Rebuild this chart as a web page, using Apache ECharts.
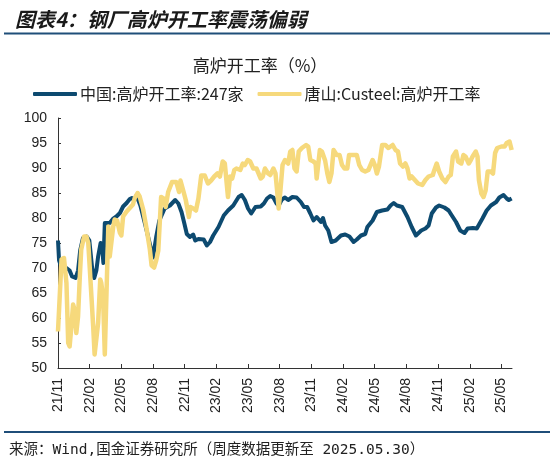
<!DOCTYPE html>
<html>
<head>
<meta charset="utf-8">
<script src="https://cdn.jsdelivr.net/npm/echarts@6/dist/echarts.min.js"></script>
<style>
html,body{margin:0;padding:0;background:#fff;}
#c{width:550px;height:465px;}
</style>
</head>
<body>
<div id="c"></div>
<script>
// ---- data ----
var tickLabels = ['21/11','22/02','22/05','22/08','22/11','23/02','23/05','23/08','23/11','24/02','24/05','24/08','24/11','25/02','25/05'];

var chinaDates = ['2021-11-01','2021-11-04','2021-11-11','2021-11-25','2021-12-04','2021-12-11','2021-12-21','2021-12-28','2022-01-04','2022-01-12','2022-01-22','2022-01-30','2022-02-08','2022-02-14','2022-02-20','2022-02-25','2022-03-02','2022-03-06','2022-03-10','2022-03-14','2022-03-21','2022-03-28','2022-04-07','2022-04-17','2022-04-27','2022-05-06','2022-05-16','2022-05-25','2022-06-01','2022-06-07','2022-06-14','2022-06-25','2022-07-08','2022-07-22','2022-08-01','2022-08-10','2022-08-19','2022-09-04','2022-09-19','2022-10-04','2022-10-13','2022-10-22','2022-10-30','2022-11-07','2022-11-16','2022-11-25','2022-12-01','2022-12-10','2022-12-25','2023-01-04','2023-01-13','2023-01-22','2023-02-07','2023-02-22','2023-03-04','2023-03-19','2023-04-04','2023-04-13','2023-04-22','2023-05-01','2023-05-10','2023-05-22','2023-06-07','2023-06-16','2023-06-25','2023-07-04','2023-07-13','2023-07-22','2023-07-28','2023-08-07','2023-08-16','2023-08-25','2023-09-07','2023-09-19','2023-10-01','2023-10-10','2023-10-19','2023-10-28','2023-11-07','2023-11-16','2023-11-28','2023-12-04','2023-12-10','2023-12-19','2023-12-28','2024-01-10','2024-01-25','2024-02-07','2024-02-19','2024-03-01','2024-03-10','2024-03-22','2024-04-04','2024-04-10','2024-04-25','2024-05-07','2024-05-22','2024-06-07','2024-06-16','2024-06-25','2024-07-04','2024-07-19','2024-08-04','2024-08-16','2024-08-28','2024-09-01','2024-09-13','2024-09-25','2024-10-04','2024-10-13','2024-10-25','2024-11-04','2024-11-19','2024-12-01','2024-12-10','2024-12-22','2025-01-04','2025-01-16','2025-01-25','2025-02-10','2025-02-21','2025-03-07','2025-03-19','2025-04-01','2025-04-16','2025-04-25','2025-05-07','2025-05-16','2025-05-22','2025-05-30'];
var chinaValues = [75.5,71.5,70,70,69.5,68.3,68,69.5,73.5,76,76.3,75.5,70,68,69.5,72.3,75,74.5,71,79,79,79,79.8,80.3,81,82.3,83,83.8,84,83.6,84.5,82.5,78.9,74.8,72.1,76.2,79.5,81.9,82.5,83.6,82.9,81.2,78.9,76.8,76.2,76.7,75.5,75.8,75.7,74.5,75.2,76.5,78.2,80.5,81.5,82.5,84.2,84.6,83.6,81.9,80.9,82.2,82.3,82.9,83.9,84.4,84.1,82.9,82.5,83.7,84.1,83.6,84.2,84.1,83.2,82.2,82.2,80.9,79.5,80.2,79.2,80.0,78.5,77.5,75.2,75.5,76.5,76.7,76.3,75.2,75.7,76.5,76.8,78.2,79.5,81.2,81.5,81.7,82.5,83.0,82.5,82.2,80.2,78.2,76.5,76.3,77.5,77.9,78.5,80.9,82.1,82.5,82.1,81.5,80.5,79.2,77.5,77.0,77.9,78.0,77.9,79.9,81.5,82.5,83.2,84.1,84.6,83.9,83.6,83.9];

var tangshanDates = ['2021-11-01','2021-11-06','2021-11-11','2021-11-18','2021-11-25','2021-11-30','2021-12-04','2021-12-09','2021-12-14','2021-12-18','2021-12-23','2021-12-28','2022-01-03','2022-01-07','2022-01-15','2022-01-22','2022-01-27','2022-02-01','2022-02-06','2022-02-11','2022-02-15','2022-02-20','2022-02-25','2022-03-01','2022-03-04','2022-03-09','2022-03-14','2022-03-18','2022-03-24','2022-03-28','2022-04-03','2022-04-08','2022-04-12','2022-04-19','2022-04-27','2022-05-01','2022-05-06','2022-05-16','2022-05-25','2022-06-04','2022-06-09','2022-06-17','2022-06-23','2022-07-03','2022-07-13','2022-07-22','2022-07-27','2022-08-04','2022-08-10','2022-08-16','2022-08-24','2022-08-31','2022-09-07','2022-09-14','2022-09-25','2022-10-07','2022-10-15','2022-10-19','2022-10-28','2022-11-04','2022-11-13','2022-11-17','2022-11-25','2022-12-03','2022-12-10','2022-12-18','2022-12-28','2023-01-07','2023-01-16','2023-01-25','2023-02-04','2023-02-11','2023-02-19','2023-02-25','2023-03-04','2023-03-10','2023-03-16','2023-03-22','2023-03-28','2023-04-09','2023-04-16','2023-04-22','2023-04-30','2023-05-07','2023-05-16','2023-05-25','2023-06-07','2023-06-13','2023-06-19','2023-06-28','2023-07-04','2023-07-13','2023-07-19','2023-07-24','2023-07-28','2023-08-03','2023-08-09','2023-08-16','2023-08-25','2023-09-01','2023-09-07','2023-09-13','2023-09-19','2023-09-25','2023-10-04','2023-10-10','2023-10-16','2023-10-22','2023-10-28','2023-11-07','2023-11-13','2023-11-16','2023-11-25','2023-12-01','2023-12-10','2023-12-16','2023-12-22','2023-12-28','2024-01-04','2024-01-13','2024-01-21','2024-01-28','2024-02-05','2024-02-13','2024-02-18','2024-03-01','2024-03-10','2024-03-17','2024-03-25','2024-04-04','2024-04-13','2024-04-25','2024-05-01','2024-05-07','2024-05-13','2024-05-22','2024-06-01','2024-06-10','2024-06-16','2024-06-22','2024-06-30','2024-07-07','2024-07-13','2024-07-21','2024-07-28','2024-08-04','2024-08-10','2024-08-16','2024-08-25','2024-09-04','2024-09-16','2024-09-25','2024-10-04','2024-10-16','2024-10-19','2024-10-27','2024-11-04','2024-11-13','2024-11-22','2024-12-01','2024-12-07','2024-12-13','2024-12-22','2024-12-28','2025-01-07','2025-01-13','2025-01-19','2025-01-28','2025-02-04','2025-02-09','2025-02-18','2025-02-23','2025-02-27','2025-03-04','2025-03-10','2025-03-16','2025-03-22','2025-04-01','2025-04-07','2025-04-13','2025-04-19','2025-05-01','2025-05-10','2025-05-16','2025-05-24','2025-05-30'];
var tangshanValues = [57.3,57.5,71.7,72,67,55,54.3,58.3,62.7,61.7,57,60.3,68.3,73.7,76.3,76.3,75,70.3,64.3,58.3,52.7,52.3,59,67.7,67,64.3,52.7,52.5,78.3,72.3,72,78.3,79.7,79.5,77,76.5,80.3,81.3,82,82.7,84,85,84.3,81.7,77.7,73.7,70.5,70.1,71.5,73.5,84.2,83.9,82.2,85.2,87.2,87.2,85.2,87.5,85.2,83.6,80.2,82.2,81.9,81.5,83.9,88.5,88.5,86.9,87.5,88.3,88.9,88.3,91.3,90.9,84.2,88.3,87.9,89.6,89.9,89.6,90.9,90.6,91.6,91.3,89.9,89.9,87.9,88.3,89.9,88.9,88.6,89.9,88.9,85.2,81.9,85.5,90.6,91.6,90.9,93.3,93.6,89.9,89.3,93.3,94.0,94.3,94.6,94.3,91.6,91.3,90.9,87.9,93.6,93.3,91.5,89,87.2,88.9,93.6,92.6,92.6,90.6,89.9,89.9,92.6,92.6,92.6,90.6,89.6,89.3,89.6,91.6,90.6,88.9,90.3,94.6,94.6,94.0,94.3,94.6,93.6,93.3,90.9,90.3,90.9,89.9,87.9,88.3,87.6,86.9,86.6,87.6,88.3,88.6,89.3,90.9,89.3,87.9,87.2,88.3,88.6,92.3,93.3,91.3,90.9,92.6,92.3,90.9,91.6,92.3,93.3,92.3,87.6,84.9,84.2,85.5,89.3,89.3,88.9,93.0,94.0,94.3,94.3,95,95.3,93.6];

// ---- helpers: date <-> month index from 2021-11 ----
function monthIndex(s){
  var p = s.split('-');
  return (+p[0] - 2021) * 12 + (+p[1] - 11) + (+p[2] - 1) / 30;
}
function pairs(dates, vals){
  return dates.map(function(d, i){ return [monthIndex(d), vals[i]]; });
}
var tickValues = tickLabels.map(function(t){
  var p = t.split('/');
  return (+p[0] - 21) * 12 + (+p[1] - 11);
});

var CJK = "'Noto Sans CJK SC', 'Liberation Sans', sans-serif";
var LAT = "'Liberation Sans', 'Noto Sans CJK SC', sans-serif";

var chart = echarts.init(document.getElementById('c'), null, {renderer: 'canvas'});
chart.setOption({
  animation: false,
  backgroundColor: '#fff',
  title: [
    {text: '图表4：钢厂高炉开工率震荡偏弱', left: 10, top: 4,
     textStyle: {fontFamily: CJK, fontSize: 20, fontWeight: 'bold', fontStyle: 'italic', color: '#1a1a1a'}},
    {text: '高炉开工率（%）', left: 255, top: 52, textAlign: 'center',
     textStyle: {fontFamily: CJK, fontSize: 17, fontWeight: 'normal', color: '#222'}}
  ],
  graphic: [
    {type: 'line', shape: {x1: 4, y1: 33.5, x2: 550, y2: 33.5}, style: {stroke: '#1f4e79', lineWidth: 2}},
    {type: 'line', shape: {x1: 4, y1: 432, x2: 550, y2: 432}, style: {stroke: '#1f4e79', lineWidth: 2}},
    {type: 'text', left: 9, top: 443,
     style: {text: '来源：Wind,国金证券研究所（周度数据更新至 2025.05.30）',
             font: "14.5px 'DejaVu Sans Mono', 'Noto Sans CJK SC', monospace", fill: '#222'}}
  ],
  legend: {
    left: 33, top: 86, padding: 0, itemWidth: 44, itemHeight: 4, itemGap: 14,
    icon: 'roundRect',
    textStyle: {fontFamily: CJK, fontSize: 16, color: '#222', padding: [0, 0, 0, -2]},
    data: ['中国:高炉开工率:247家', '唐山:Custeel:高炉开工率']
  },
  grid: {left: 58, right: 38, top: 118, bottom: 97, containLabel: false},
  xAxis: {
    type: 'value', min: 0, max: 43,
    splitLine: {show: false},
    axisLine: {show: true, lineStyle: {color: '#333', width: 1}},
    axisTick: {show: true, inside: true, length: 4, customValues: tickValues, lineStyle: {color: '#333'}},
    axisLabel: {
      customValues: tickValues, rotate: 90, margin: 10,
      fontFamily: LAT, fontSize: 14, color: '#222',
      formatter: function(v){
        var i = tickValues.indexOf(Math.round(v));
        return i >= 0 ? tickLabels[i] : '';
      }
    }
  },
  yAxis: {
    type: 'value', min: 50, max: 100, interval: 5,
    splitLine: {show: false},
    axisLine: {show: true, lineStyle: {color: '#333', width: 1}},
    axisTick: {show: true, inside: true, length: 3, lineStyle: {color: '#333'}},
    axisLabel: {fontFamily: LAT, fontSize: 14, color: '#222', margin: 11}
  },
  series: [
    {name: '中国:高炉开工率:247家', type: 'line', showSymbol: false, symbol: 'none',
     data: pairs(chinaDates, chinaValues),
     itemStyle: {color: '#0d4a70'}, lineStyle: {color: '#0d4a70', width: 4, join: 'round'}},
    {name: '唐山:Custeel:高炉开工率', type: 'line', showSymbol: false, symbol: 'none',
     data: pairs(tangshanDates, tangshanValues),
     itemStyle: {color: '#f6d97c'}, lineStyle: {color: '#f6d97c', width: 4.5, join: 'round'}}
  ]
});
</script>
</body>
</html>
